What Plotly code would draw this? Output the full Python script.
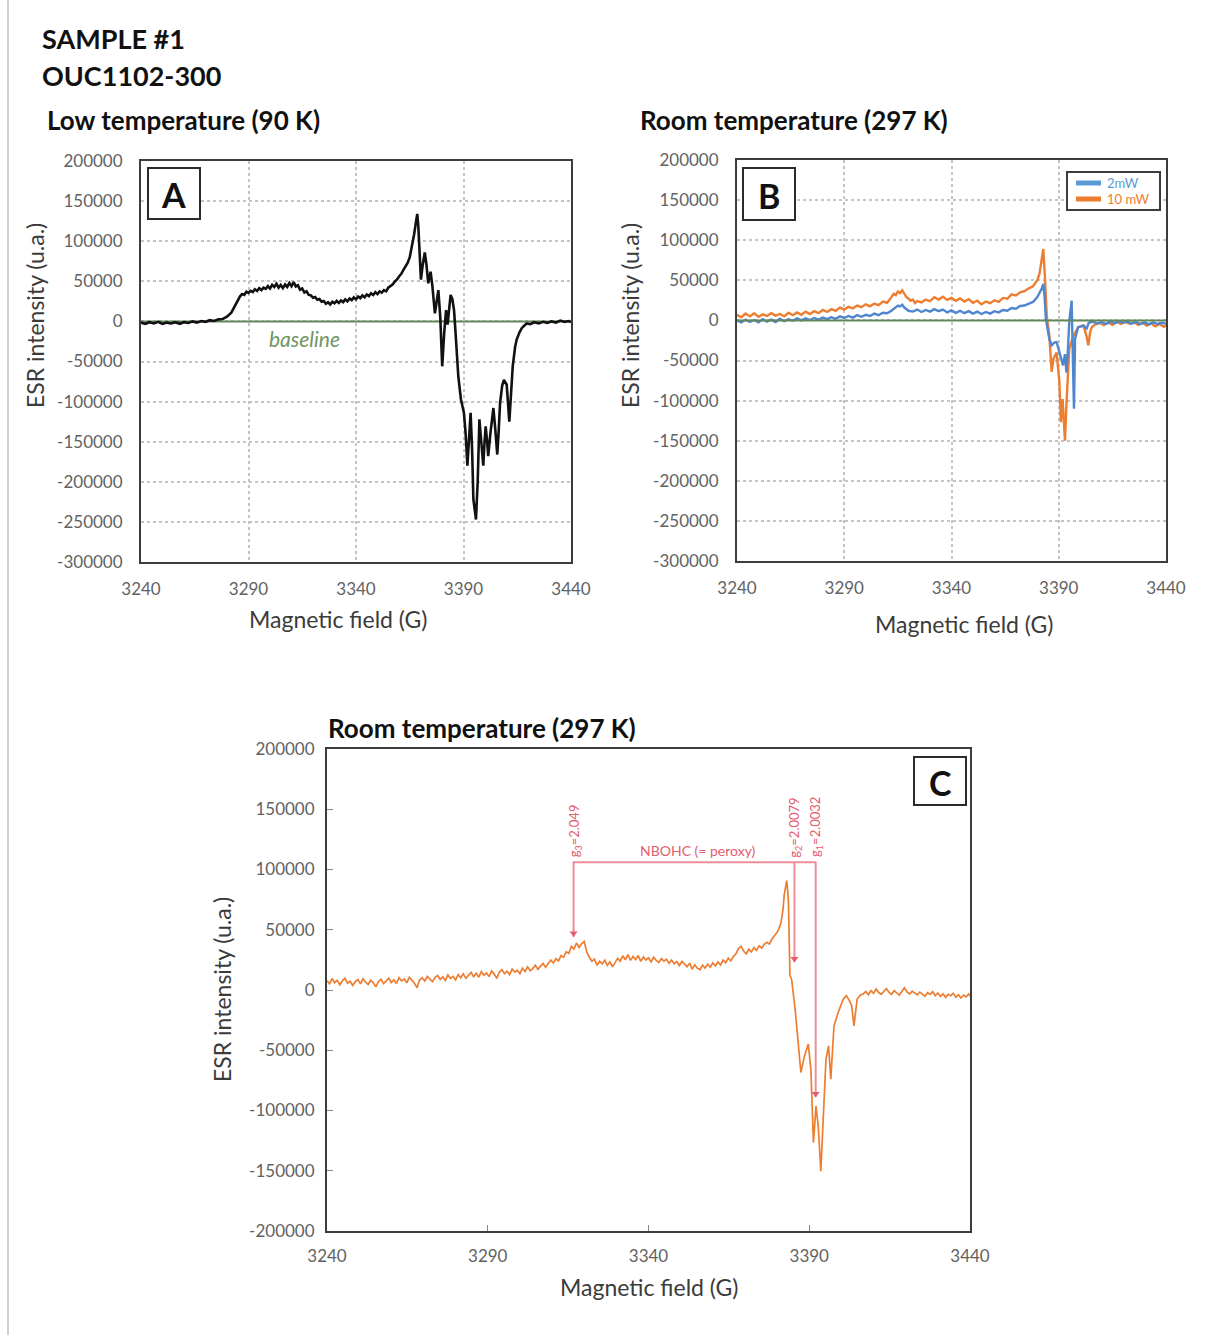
import plotly.graph_objects as go

W, H = 1216, 1335

# ---- tick values -------------------------------------------------------
field_ticks = [3240, 3290, 3340, 3390, 3440]
esr_ticks_ab = [200000, 150000, 100000, 50000, 0, -50000, -100000, -150000, -200000, -250000, -300000]
esr_ticks_c = [200000, 150000, 100000, 50000, 0, -50000, -100000, -150000, -200000]

# ---- spectra: (magnetic field G, ESR intensity) -------------------------
spectrum_90K = [
    (3240, -1500), (3242, -3000), (3244, -1000), (3246, -2500), (3248, -500), (3250, -3000),
    (3252, -1500), (3254, -2500), (3256, -1000), (3258, -3000), (3260, -1000), (3262, -2000),
    (3264, 0), (3266, -1500), (3268, 500), (3270, -500), (3272, 1500), (3274, 500),
    (3276, 2500), (3278, 3000), (3280, 6000), (3282, 11000), (3284, 21000), (3285, 26000),
    (3286, 31000), (3287, 34000), (3288, 33000), (3289, 37000), (3290, 35500), (3291, 38000),
    (3292, 36500), (3293, 40000), (3294, 38000), (3295, 41500), (3296, 39000), (3297, 42000),
    (3298, 40500), (3299, 44000), (3300, 41000), (3301, 45500), (3302, 43000), (3303, 47000),
    (3304, 42000), (3305, 45500), (3306, 41500), (3307, 46000), (3308, 43000), (3309, 48000),
    (3310, 44000), (3311, 49000), (3312, 43500), (3313, 45000), (3314, 39500), (3315, 41000),
    (3316, 36000), (3317, 37500), (3318, 33000), (3319, 32500), (3320, 29500), (3321, 30500),
    (3322, 27000), (3323, 28000), (3324, 24500), (3325, 25500), (3326, 22000), (3327, 24000),
    (3328, 21000), (3329, 24500), (3330, 22500), (3331, 25500), (3332, 23000), (3333, 26000),
    (3334, 24000), (3335, 27500), (3336, 25000), (3337, 28500), (3338, 26500), (3339, 30000),
    (3340, 27500), (3341, 31000), (3342, 29000), (3343, 32500), (3344, 30000), (3345, 33500),
    (3346, 31500), (3347, 35000), (3348, 33000), (3349, 36500), (3350, 34000), (3351, 37500),
    (3352, 36000), (3353, 39000), (3354, 37500), (3355, 42000), (3356, 43500), (3357, 46000),
    (3358, 49500), (3359, 52000), (3360, 56000), (3361, 59000), (3362, 64000), (3363, 68000),
    (3364, 73000), (3365, 80000), (3366, 92000), (3367, 108000), (3368, 126000), (3368.5, 134000),
    (3369, 118000), (3369.5, 85000), (3370.2, 52000), (3371, 70000), (3372, 86000), (3372.8, 70000),
    (3373.6, 47500), (3374.7, 62000), (3375.5, 45000), (3376.7, 10000), (3377.5, 25000), (3378.3, 39000),
    (3379.2, 5000), (3380.1, -56000), (3381, -15000), (3381.9, 14000), (3382.6, -4000), (3384, 33000),
    (3384.8, 28000), (3385.6, 14000), (3386.2, -10000), (3386.8, -35000), (3387.6, -69000), (3388.8, -97000),
    (3389.5, -108000), (3390.2, -114000), (3391, -140000), (3391.8, -180000), (3392.5, -150000), (3393.3, -114000),
    (3394, -160000), (3394.6, -222000), (3395.8, -247000), (3396.6, -200000), (3397.4, -122000), (3398.3, -150000),
    (3399.2, -180000), (3399.8, -150000), (3400.3, -131000), (3401, -150000), (3401.5, -168000), (3402.5, -140000),
    (3403.9, -108000), (3404.8, -135000), (3405.7, -166000), (3406.3, -140000), (3407, -102000), (3408, -80000),
    (3408.8, -73000), (3410.1, -79000), (3410.7, -100000), (3411.3, -125000), (3412, -95000), (3412.9, -56000),
    (3414, -32000), (3414.7, -23000), (3416, -14000), (3417.1, -8500), (3418, -6000), (3419.4, -2500),
    (3421, -3500), (3423, -1000), (3425, -2500), (3427, -500), (3429, -2000), (3431, 0),
    (3433, -1500), (3435, 1000), (3437, -500), (3439, 500), (3440, -1000),
]

spectrum_297K_2mW = [
    (3240, 0), (3242, -2500), (3244, 1000), (3246, -2000), (3248, 500), (3250, -2500),
    (3252, 1500), (3254, -1500), (3256, 1000), (3258, -2000), (3260, 2000), (3262, -1000),
    (3264, 1500), (3266, -500), (3268, 2500), (3270, 0), (3272, 2500), (3274, 500),
    (3276, 3000), (3278, 1000), (3280, 3500), (3282, 1500), (3284, 4000), (3286, 2000),
    (3288, 5000), (3290, 3000), (3292, 5500), (3294, 3500), (3296, 6500), (3298, 4500),
    (3300, 7000), (3302, 5500), (3304, 8500), (3306, 6500), (3308, 9500), (3310, 9000),
    (3312, 12000), (3313, 14500), (3314, 16000), (3315, 18500), (3316, 17500), (3317, 19500),
    (3318, 16000), (3319, 13500), (3320, 12000), (3322, 11000), (3324, 13500), (3326, 10500),
    (3328, 13000), (3330, 11000), (3332, 14000), (3334, 11500), (3336, 13500), (3338, 10000),
    (3340, 12500), (3342, 9500), (3344, 12000), (3346, 9000), (3348, 11500), (3350, 8500),
    (3352, 11000), (3354, 8000), (3356, 10500), (3358, 8500), (3360, 11500), (3362, 10000),
    (3364, 13000), (3366, 12000), (3368, 15500), (3370, 14500), (3372, 18000), (3374, 18500),
    (3376, 21000), (3378, 23000), (3380, 29000), (3381, 34000), (3382, 39000), (3382.8, 45500),
    (3383.4, 30000), (3384, 2000), (3385.6, -23000), (3386.7, -31000), (3388, -27500), (3389, -27000),
    (3390.5, -40000), (3392, -56000), (3392.9, -42000), (3393.6, -65000), (3394.2, -40000), (3394.9, -2000),
    (3396, 24500), (3396.5, -35000), (3397.1, -110000), (3397.6, -23000), (3399, -8500), (3401.5, -6500),
    (3403, -10000), (3404, -3000), (3406, -1500), (3408, -4000), (3410, -2000), (3412, -4500),
    (3414, -1500), (3416, -3500), (3418, -1000), (3420, -3000), (3422, -1500), (3424, -4000),
    (3426, -2000), (3428, -4500), (3430, -2500), (3432, -5000), (3434, -2500), (3436, -4500),
    (3438, -3000), (3440, -4000),
]

spectrum_297K_10mW = [
    (3240, 7000), (3242, 4000), (3244, 8500), (3246, 5000), (3248, 9000), (3250, 4500),
    (3252, 7500), (3254, 5500), (3256, 9000), (3258, 6000), (3260, 8000), (3262, 5000),
    (3264, 9500), (3266, 6500), (3268, 10000), (3270, 7000), (3272, 11000), (3274, 8000),
    (3276, 11500), (3278, 9000), (3280, 13000), (3282, 10500), (3284, 14000), (3286, 12000),
    (3288, 16000), (3290, 13500), (3292, 17000), (3294, 15000), (3296, 18500), (3298, 16500),
    (3300, 20000), (3302, 17500), (3304, 21000), (3306, 19000), (3308, 23500), (3310, 22000),
    (3312, 29000), (3313, 33000), (3314, 31500), (3315, 36000), (3316, 34000), (3317, 37500),
    (3318, 33500), (3319, 29000), (3320, 27000), (3321, 24500), (3322, 26000), (3323, 21500),
    (3324, 24000), (3326, 22500), (3328, 26000), (3330, 24000), (3332, 29000), (3334, 26000),
    (3336, 29500), (3338, 25500), (3340, 28000), (3342, 24500), (3344, 27500), (3346, 23500),
    (3348, 26500), (3350, 22000), (3352, 24500), (3354, 20000), (3356, 23500), (3358, 21500),
    (3360, 25000), (3362, 23000), (3364, 28000), (3366, 27000), (3368, 32500), (3370, 31000),
    (3372, 35000), (3374, 36500), (3376, 40000), (3378, 42500), (3380, 50000), (3381, 58000),
    (3382, 75000), (3382.8, 89000), (3383.6, 52000), (3384.4, 6000), (3385.6, -19000), (3386.7, -64000),
    (3387.5, -48000), (3389, -40000), (3390.3, -77000), (3391, -127000), (3391.8, -98000), (3392.9, -150000),
    (3393.7, -98000), (3394.9, -35500), (3396.8, -19000), (3399.1, -8500), (3401.5, -6500), (3403, -20000),
    (3403.8, -31000), (3404.6, -15000), (3405.4, -8500), (3407, -5000), (3409, -3000), (3411, -6000),
    (3413, -2500), (3415, -5500), (3417, -2000), (3419, -4500), (3421, -1500), (3423, -4000),
    (3425, -2000), (3427, -5500), (3429, -3000), (3431, -6500), (3433, -3500), (3435, -7500),
    (3437, -4500), (3439, -8000), (3440, -6000),
]

spectrum_297K_detail = [
    (3240.0, 7700), (3240.8, 5200), (3241.6, 9400), (3242.4, 6100), (3243.2, 8000), (3244.0, 4300),
    (3244.8, 7600), (3245.6, 9800), (3246.4, 5600), (3247.2, 7200), (3248.0, 3800), (3248.8, 6900),
    (3249.6, 8700), (3250.4, 5100), (3251.2, 9300), (3252.0, 6400), (3252.8, 4600), (3253.6, 8100),
    (3254.4, 5900), (3255.2, 2600), (3256.0, 7000), (3256.8, 8800), (3257.6, 5300), (3258.4, 7700),
    (3259.2, 9900), (3260.0, 6200), (3260.8, 8400), (3261.6, 5400), (3262.4, 10200), (3263.2, 7600),
    (3264.0, 9100), (3264.8, 6000), (3265.6, 10600), (3266.4, 8200), (3267.2, 5700), (3268.0, 1800),
    (3268.8, 8300), (3269.6, 10100), (3270.4, 7400), (3271.2, 11200), (3272.0, 8600), (3272.8, 6900),
    (3273.6, 10400), (3274.4, 12100), (3275.2, 8800), (3276.0, 10900), (3276.8, 7900), (3277.6, 12500),
    (3278.4, 9600), (3279.2, 11300), (3280.0, 8400), (3280.8, 12800), (3281.6, 10100), (3282.4, 13400),
    (3283.2, 9700), (3284.0, 12200), (3284.8, 14600), (3285.6, 11000), (3286.4, 13900), (3287.2, 10700),
    (3288.0, 15200), (3288.8, 12300), (3289.6, 14100), (3290.4, 11100), (3291.2, 15800), (3292.0, 13200),
    (3292.8, 9600), (3293.6, 14700), (3294.4, 16900), (3295.2, 13500), (3296.0, 15600), (3296.8, 12800),
    (3297.6, 17400), (3298.4, 14900), (3299.2, 16300), (3300.0, 13600), (3300.8, 18100), (3301.6, 15400),
    (3302.4, 19200), (3303.2, 16000), (3304.0, 17800), (3304.8, 20500), (3305.6, 17100), (3306.4, 19600),
    (3307.2, 22000), (3308.0, 18800), (3308.8, 21700), (3309.6, 24800), (3310.4, 22600), (3311.2, 25900),
    (3312.0, 24100), (3312.8, 28600), (3313.6, 27100), (3314.4, 31800), (3315.2, 30400), (3316.0, 36200),
    (3316.8, 34100), (3317.6, 39000), (3318.4, 35300), (3319.2, 38400), (3320.0, 40200), (3320.8, 31500),
    (3321.6, 27200), (3322.4, 23800), (3323.2, 25600), (3324.0, 20400), (3324.8, 23900), (3325.6, 21600),
    (3326.4, 24800), (3327.2, 20500), (3328.0, 23400), (3328.8, 19300), (3329.6, 22700), (3330.4, 26200),
    (3331.2, 23900), (3332.0, 28400), (3332.8, 25100), (3333.6, 29300), (3334.4, 24600), (3335.2, 27800),
    (3336.0, 25300), (3336.8, 28600), (3337.6, 23700), (3338.4, 27400), (3339.2, 24900), (3340.0, 26800),
    (3340.8, 23300), (3341.6, 27100), (3342.4, 24600), (3343.2, 22800), (3344.0, 26000), (3344.8, 23900),
    (3345.6, 25600), (3346.4, 22100), (3347.2, 24700), (3348.0, 21800), (3348.8, 23600), (3349.6, 20300),
    (3350.4, 23800), (3351.2, 21200), (3352.0, 19400), (3352.8, 22300), (3353.6, 17200), (3354.4, 20900),
    (3355.2, 18100), (3356.0, 16800), (3356.8, 20600), (3357.6, 18200), (3358.4, 21500), (3359.2, 19000),
    (3360.0, 22400), (3360.8, 20100), (3361.6, 23300), (3362.4, 20700), (3363.2, 24900), (3364.0, 22600),
    (3364.8, 26400), (3365.6, 24200), (3366.4, 27800), (3367.2, 29900), (3368.0, 34600), (3368.8, 36200),
    (3369.6, 32400), (3370.4, 30100), (3371.2, 33800), (3372.0, 31600), (3372.8, 35200), (3373.6, 32900),
    (3374.4, 36700), (3375.2, 34800), (3376.0, 37900), (3376.8, 39600), (3377.6, 38100), (3378.4, 42300),
    (3379.2, 44800), (3380.0, 47900), (3380.6, 51200), (3381.2, 55800), (3381.8, 66000), (3382.2, 78500),
    (3383.0, 90900), (3383.5, 75700), (3384.0, 11900), (3384.5, 9200), (3385.6, -15800), (3386.6, -46300),
    (3387.4, -68500), (3388.5, -54700), (3389.7, -44900), (3390.5, -65700), (3391.3, -126700), (3392.1, -96300),
    (3392.8, -112900), (3393.6, -150300), (3394.4, -107300), (3395.2, -57400), (3396.0, -46300), (3396.7, -74000),
    (3397.7, -29700), (3399.0, -18600), (3400.6, -7500), (3401.6, -4700), (3402.5, -9000), (3403.2, -13000),
    (3403.9, -29700), (3404.9, -7500), (3406.0, -4000), (3406.8, -3300), (3407.6, -1200), (3408.4, -3900),
    (3409.2, -500), (3410.0, -2800), (3410.8, 800), (3411.6, -2100), (3412.4, -3600), (3413.2, -900),
    (3414.0, 1200), (3414.8, -1800), (3415.6, -3700), (3416.4, -400), (3417.2, -2600), (3418.0, -4400),
    (3418.8, -1300), (3419.6, 1800), (3420.4, -1600), (3421.2, -3400), (3422.0, -900), (3422.8, -2900),
    (3423.6, -4100), (3424.4, -1700), (3425.2, -3800), (3426.0, -5200), (3426.8, -2200), (3427.6, -3600),
    (3428.4, -1400), (3429.2, -4700), (3430.0, -2500), (3430.8, -5400), (3431.6, -3100), (3432.4, -6100),
    (3433.2, -3600), (3434.0, -4800), (3434.8, -2700), (3435.6, -5900), (3436.4, -3900), (3437.2, -6600),
    (3438.0, -4200), (3438.8, -5700), (3439.6, -3300), (3440.0, -5100),
]

# NBOHC g-value markers: (label, field, arrow tip intensity)
g_markers = [
    ("g<sub>3</sub>=2.049", 3316.7, 44000),
    ("g<sub>2</sub>=2.0079", 3385.4, 23000),
    ("g<sub>1</sub>=2.0032", 3392.0, -89000),
]
bracket_level = 106000

# microwave power series shown in panel B
power_labels = ["2mW", "10 mW"]

# ---- styling -----------------------------------------------------------
FONT = "Lato"
ORANGE = "#ED7D31"
BLUE = "#4F86D0"
LEGEND_BLUE = "#5B9BD5"
GREEN = "#62885a"
RED = "#E35D6E"
RED_LINE = "#EC8E99"
TICK_GREY = "#626262"
AX = "#3b3b3b"


def fx(px):
    return px / W


def fy(py):
    return 1 - py / H


def unzip(pairs):
    return [p[0] for p in pairs], [p[1] for p in pairs]


fig = go.Figure()

# panel A
xa, ya = unzip(spectrum_90K)
fig.add_trace(go.Scatter(x=[3240, 3440], y=[0, 0], mode="lines", line=dict(color=GREEN, width=2),
                         xaxis="x", yaxis="y", hoverinfo="skip"))
fig.add_trace(go.Scatter(x=xa, y=ya, mode="lines", line=dict(color="#111111", width=2.6),
                         xaxis="x", yaxis="y"))

# panel B
xo, yo = unzip(spectrum_297K_10mW)
xb, yb = unzip(spectrum_297K_2mW)
fig.add_trace(go.Scatter(x=xo, y=yo, mode="lines", name=power_labels[1], line=dict(color=ORANGE, width=2.4),
                         xaxis="x2", yaxis="y2"))
fig.add_trace(go.Scatter(x=xb, y=yb, mode="lines", name=power_labels[0], line=dict(color=BLUE, width=2.4),
                         xaxis="x2", yaxis="y2"))
fig.add_trace(go.Scatter(x=[3240, 3440], y=[0, 0], mode="lines", line=dict(color=GREEN, width=2),
                         xaxis="x2", yaxis="y2", hoverinfo="skip"))

# panel C
xc, yc = unzip(spectrum_297K_detail)
fig.add_trace(go.Scatter(x=xc, y=yc, mode="lines", line=dict(color=ORANGE, width=1.7),
                         xaxis="x3", yaxis="y3"))

# NBOHC bracket with arrows down to each g-value
g3, g2, g1 = g_markers
bx = [g3[1], g3[1], g1[1], g1[1], None, g2[1], g2[1]]
by = [g3[2], bracket_level, bracket_level, g1[2], None, bracket_level, g2[2]]
fig.add_trace(go.Scatter(x=bx, y=by, mode="lines", line=dict(color=RED_LINE, width=2),
                         xaxis="x3", yaxis="y3", hoverinfo="skip"))
fig.add_trace(go.Scatter(x=[m[1] for m in g_markers], y=[m[2] + 3000 for m in g_markers], mode="markers",
                         marker=dict(symbol="triangle-down", size=7, color=RED),
                         xaxis="x3", yaxis="y3", hoverinfo="skip"))

tickfont = dict(family=FONT, size=17, color=TICK_GREY)


def grid_axis(domain, ticks, anchor, standoff):
    lo, hi = min(ticks), max(ticks)
    return dict(domain=domain, anchor=anchor, range=[lo, hi], automargin=False,
                tickvals=ticks, ticktext=[str(t) for t in ticks], showgrid=True, gridcolor="#c4c4c4",
                griddash="dot", gridwidth=1.5, showline=True, linecolor="#3c3c3c", linewidth=2,
                mirror=True, zeroline=False, tickfont=tickfont, ticks="", fixedrange=True,
                ticklabelstandoff=standoff)


def framed_axis(domain, ticks, anchor, standoff):
    lo, hi = min(ticks), max(ticks)
    return dict(domain=domain, anchor=anchor, range=[lo, hi], automargin=False,
                tickvals=ticks, ticktext=[str(t) for t in ticks], showgrid=False, showline=True,
                linecolor="#3c3c3c", linewidth=2, mirror=True, zeroline=False, ticks="inside",
                ticklen=6, tickcolor="#888888", tickfont=tickfont, fixedrange=True,
                ticklabelstandoff=standoff)


fig.update_layout(
    width=W, height=H, autosize=False, showlegend=False,
    margin=dict(l=0, r=0, t=0, b=0),
    paper_bgcolor="white", plot_bgcolor="white",
    font=dict(family=FONT),
    xaxis=grid_axis([fx(141), fx(571)], field_ticks, "y", 11),
    yaxis=grid_axis([fy(562), fy(161)], esr_ticks_ab, "x", 13),
    xaxis2=grid_axis([fx(737), fx(1166)], field_ticks, "y2", 11),
    yaxis2=grid_axis([fy(561), fy(160)], esr_ticks_ab, "x2", 13),
    xaxis3=framed_axis([fx(327), fx(970)], field_ticks, "y3", 9),
    yaxis3=framed_axis([fy(1231), fy(749)], esr_ticks_c, "x3", 7),
)

shapes = []
annotations = []


def text(px, py, s, size, color="#111111", bold=False, xanchor="left", angle=0, italic=False):
    annotations.append(dict(
        xref="paper", yref="paper", x=fx(px), y=fy(py), xanchor=xanchor, yanchor="middle",
        text=f"<b>{s}</b>" if bold else s, showarrow=False, textangle=angle,
        font=dict(family=FONT, size=size, color=color, style="italic" if italic else "normal")))


# page rule at the left edge
shapes.append(dict(type="line", xref="paper", yref="paper", x0=fx(8), x1=fx(8), y0=0, y1=1,
                   line=dict(color="#cfcfcf", width=2)))

# headings
text(40, 38, "SAMPLE #1", 27, bold=True)
text(40, 76, "OUC1102-300", 27, bold=True)
text(45, 120, "Low temperature (90 K)", 26, bold=True)
text(638, 120, "Room temperature (297 K)", 26, bold=True)
text(326, 728, "Room temperature (297 K)", 26, bold=True)

# axis titles
FIELD_TITLE = "Magnetic field (G)"
ESR_TITLE = "ESR intensity (u.a.)"
text(35, 316, ESR_TITLE, 23, color=AX, xanchor="center", angle=-90)
text(630, 316, ESR_TITLE, 23, color=AX, xanchor="center", angle=-90)
text(222, 990, ESR_TITLE, 23, color=AX, xanchor="center", angle=-90)
text(338, 619, FIELD_TITLE, 23, color=AX, xanchor="center")
text(964, 624, FIELD_TITLE, 23, color=AX, xanchor="center")
text(649, 1287, FIELD_TITLE, 23, color=AX, xanchor="center")

# baseline label
text(304, 338, "baseline", 21, color="#6f9563", xanchor="center", italic=True)

# panel letters in boxes
for letter, (x0, y0, x1, y1) in {"A": (148, 168, 200, 219), "B": (743, 168, 795, 220),
                                 "C": (914, 757, 966, 805)}.items():
    shapes.append(dict(type="rect", xref="paper", yref="paper", x0=fx(x0), x1=fx(x1), y0=fy(y1), y1=fy(y0),
                       line=dict(color="#2b2b2b", width=2), fillcolor="white"))
    text((x0 + x1) / 2, (y0 + y1) / 2 + 1, letter, 34, bold=True, xanchor="center")

# legend box for panel B
shapes.append(dict(type="rect", xref="paper", yref="paper", x0=fx(1067), x1=fx(1160), y0=fy(210), y1=fy(172),
                   line=dict(color="#3c3c3c", width=2), fillcolor="white"))
for label, color, py in [(power_labels[0], LEGEND_BLUE, 183), (power_labels[1], ORANGE, 199)]:
    shapes.append(dict(type="line", xref="paper", yref="paper", x0=fx(1076), x1=fx(1101), y0=fy(py), y1=fy(py),
                       line=dict(color=color, width=5)))
    text(1105, py, label, 13, color=color)

# g-value labels and bracket caption
for label, gx, tip in g_markers:
    annotations.append(dict(xref="x3", yref="y3", x=gx, y=bracket_level, xanchor="center",
                            yanchor="bottom", yshift=3, xshift=1, text=label, showarrow=False, textangle=-90,
                            font=dict(family=FONT, size=13, color=RED)))
annotations.append(dict(xref="x3", yref="y3", x=3355.4, y=bracket_level, xanchor="center", yanchor="bottom",
                        yshift=1, text="NBOHC (= peroxy)", showarrow=False,
                        font=dict(family=FONT, size=14, color=RED)))

fig.update_layout(shapes=shapes, annotations=annotations)
fig.write_html("out.html")
